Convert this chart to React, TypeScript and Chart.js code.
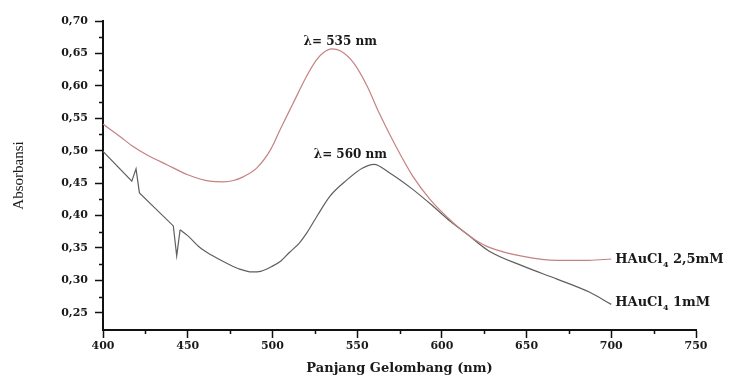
import { useEffect, useRef } from 'react';
import { Chart, registerables } from 'chart.js';

Chart.register(...registerables);

// HAuCl4 2,5 mM spectrum
const wavelength25 = [400, 410, 418, 425, 438, 450, 463, 471, 477, 483, 491, 499, 505, 512, 520, 526, 530, 535, 540, 548, 556, 563, 573, 583, 593, 603, 613, 620, 628, 648, 668, 687, 700];
const absorb25 = [0.541, 0.522, 0.506, 0.495, 0.478, 0.463, 0.453, 0.452, 0.454, 0.46, 0.474, 0.502, 0.535, 0.572, 0.614, 0.64, 0.651, 0.657, 0.654, 0.635, 0.599, 0.558, 0.506, 0.46, 0.425, 0.398, 0.375, 0.362, 0.351, 0.337, 0.331, 0.331, 0.333];

// HAuCl4 1 mM spectrum
const wavelength1 = [400, 417, 419.5, 421.5, 441.5, 443.5, 445.5, 450, 457, 464, 471, 480, 488, 493, 500, 505, 510, 516, 520, 527, 534, 544, 553, 560, 569, 583, 595, 605, 615, 628, 648, 668, 687, 700];
const absorb1 = [0.499, 0.453, 0.472, 0.435, 0.384, 0.338, 0.378, 0.369, 0.351, 0.339, 0.329, 0.318, 0.313, 0.314, 0.322, 0.33, 0.343, 0.358, 0.372, 0.402, 0.43, 0.455, 0.473, 0.479, 0.466, 0.44, 0.414, 0.391, 0.371, 0.345, 0.322, 0.302, 0.282, 0.263];
// the noisy (spiky) part of the 1 mM spectrum ends at this wavelength
const spikeRegionEnd = 445.5;

const seriesNames = ['HAuCl4 2,5mM', 'HAuCl4 1mM'];
const seriesSuffix = [' 2,5mM', ' 1mM'];
const peakLabels = ['λ= 535 nm', 'λ= 560 nm'];
const xMajorStep = 50;
const yMajorStep = 0.05;

const AX = '#111';
const RED = 'rgb(196,130,130)';
const GREY = 'rgb(95,95,95)';

const annotatePlugin = {
  id: 'annotate',
  afterDraw(chart: any) {
    const { ctx, scales } = chart;
    const x = scales.x;
    const y = scales.y;
    ctx.save();
    // minor ticks
    ctx.strokeStyle = AX;
    ctx.lineWidth = 1.5;
    ctx.beginPath();
    for (let v = 0.275; v < 0.7; v += 0.05) {
      const py = Math.round(y.getPixelForValue(v)) + 0.5;
      ctx.moveTo(x.left - 4, py);
      ctx.lineTo(x.left, py);
    }
    for (let v = 425; v < 750; v += 50) {
      const px = Math.round(x.getPixelForValue(v)) + 0.5;
      ctx.moveTo(px, y.bottom);
      ctx.lineTo(px, y.bottom + 4);
    }
    ctx.stroke();

    // peak labels
    ctx.fillStyle = '#1a1a1a';
    ctx.font = 'bold 12px "DejaVu Serif"';
    ctx.textAlign = 'center';
    ctx.textBaseline = 'middle';
    ctx.fillText(peakLabels[0], x.getPixelForValue(540), y.getPixelForValue(0.668));
    ctx.fillText(peakLabels[1], x.getPixelForValue(546), y.getPixelForValue(0.494));

    // series labels with subscript
    const ends = [absorb25[absorb25.length - 1] - 0.001, absorb1[absorb1.length - 1] + 0.002];
    ctx.textAlign = 'left';
    for (let i = 0; i < 2; i++) {
      let px = x.getPixelForValue(700) + 4;
      const py = y.getPixelForValue(ends[i]);
      ctx.font = 'bold 13px "DejaVu Serif"';
      ctx.fillText('HAuCl', px, py);
      px += ctx.measureText('HAuCl').width;
      ctx.font = 'bold 8px "DejaVu Serif"';
      ctx.fillText('4', px + 0.5, py + 5);
      px += ctx.measureText('4').width + 0.5;
      ctx.font = 'bold 13px "DejaVu Serif"';
      ctx.fillText(seriesSuffix[i], px, py);
    }
    ctx.restore();
  },
};

export default function App() {
  const ref = useRef<HTMLCanvasElement>(null);
  useEffect(() => {
    if (!ref.current) return;
    const pts1 = wavelength1.map((w, i) => ({ x: w, y: absorb1[i] }));
    const cut = wavelength1.indexOf(spikeRegionEnd);
    const chart = new Chart(ref.current, {
      type: 'line',
      data: {
        datasets: [
          {
            label: seriesNames[0],
            data: wavelength25.map((w, i) => ({ x: w, y: absorb25[i] })),
            borderColor: RED,
            borderWidth: 1.2,
            pointRadius: 0,
            cubicInterpolationMode: 'monotone',
            fill: false,
          },
          {
            label: seriesNames[1],
            data: pts1.slice(0, cut + 1),
            borderColor: GREY,
            borderWidth: 1.2,
            pointRadius: 0,
            tension: 0,
            fill: false,
          },
          {
            label: seriesNames[1],
            data: pts1.slice(cut),
            borderColor: GREY,
            borderWidth: 1.2,
            pointRadius: 0,
            cubicInterpolationMode: 'monotone',
            fill: false,
          },
        ],
      },
      options: {
        animation: false,
        responsive: true,
        maintainAspectRatio: false,
        layout: { padding: { top: 21, right: 49, left: 0, bottom: 0 } },
        plugins: { legend: { display: false }, tooltip: { enabled: false } },
        scales: {
          x: {
            type: 'linear',
            min: 400,
            max: 750,
            afterFit: (s: any) => { s.height = 46; },
            ticks: {
              stepSize: xMajorStep,
              color: '#1a1a1a',
              font: { family: '"DejaVu Serif"', weight: 'bold', size: 11 },
              padding: 2,
              maxRotation: 0,
            },
            grid: { display: true, drawOnChartArea: false, drawTicks: true, tickLength: 8, tickColor: AX, tickWidth: 1.5 },
            border: { display: true, color: AX, width: 2 },
            title: {
              display: true,
              text: 'Panjang Gelombang (nm)',
              color: '#1a1a1a',
              font: { family: '"DejaVu Serif"', weight: 'bold', size: 13 },
              padding: { top: 2, bottom: 0 },
            },
          },
          y: {
            type: 'linear',
            min: 0.2235,
            max: 0.7,
            afterFit: (s: any) => { s.width = 103; },
            afterBuildTicks: (s: any) => {
              s.ticks = s.ticks.filter((t: any) => Math.abs(t.value / yMajorStep - Math.round(t.value / yMajorStep)) < 1e-6);
            },
            ticks: {
              stepSize: yMajorStep,
              color: '#1a1a1a',
              font: { family: '"DejaVu Serif"', weight: 'bold', size: 11 },
              padding: 7,
              callback: (v: any) => Number(v).toFixed(2).replace('.', ','),
            },
            grid: { display: true, drawOnChartArea: false, drawTicks: true, tickLength: 8, tickColor: AX, tickWidth: 1.5 },
            border: { display: true, color: AX, width: 2 },
            title: {
              display: true,
              text: 'Absorbansi',
              color: '#1a1a1a',
              font: { family: '"Liberation Serif"', weight: 'normal', size: 15 },
              padding: { top: 10, bottom: 0 },
            },
          },
        },
      },
      plugins: [annotatePlugin],
    } as any);
    return () => chart.destroy();
  }, []);
  return (
    <div style={{ position: 'fixed', left: 0, top: 0, width: 745, height: 376, background: '#fff' }}>
      <canvas ref={ref} />
    </div>
  );
}
